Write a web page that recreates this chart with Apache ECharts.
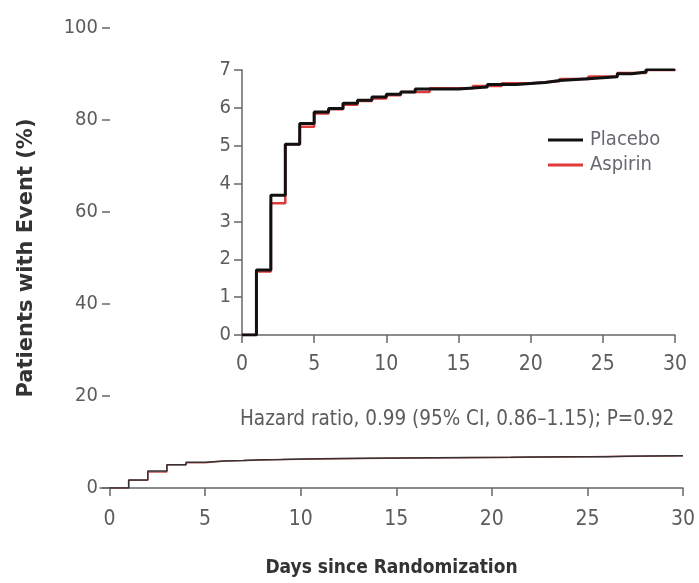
<!DOCTYPE html>
<html>
<head>
<meta charset="utf-8">
<script src="https://cdn.jsdelivr.net/npm/echarts@6/dist/echarts.min.js"></script>
<style>html,body{margin:0;padding:0;background:#fff;}#c{width:699px;height:583px;}</style>
</head>
<body>
<div id="c"></div>
<script>
// Data (days since randomization, cumulative % with event)
const placeboDays = [0, 1, 2, 3, 4, 5, 6, 7, 8, 9, 10, 11, 12, 15, 17, 19, 21, 22, 24, 26, 27, 28, 30];
const placeboPct  = [0, 1.72, 3.69, 5.04, 5.59, 5.89, 5.98, 6.12, 6.2, 6.29, 6.36, 6.42, 6.5, 6.55, 6.62, 6.67, 6.72, 6.77, 6.82, 6.9, 6.95, 7.01, 7.01];
const aspirinDays = [0, 1, 2, 3, 4, 5, 6, 7, 8, 9, 10, 11, 13, 16, 18, 20, 22, 24, 26, 28, 30];
const aspirinPct  = [0, 1.68, 3.48, 5.04, 5.5, 5.85, 5.96, 6.08, 6.18, 6.25, 6.33, 6.42, 6.52, 6.58, 6.65, 6.7, 6.76, 6.83, 6.92, 7.0, 7.02];
const seriesNames = ['Placebo', 'Aspirin'];
const outerXTicks = [0, 5, 10, 15, 20, 25, 30];
const outerYTicks = [0, 20, 40, 60, 80, 100];
const hazardText = 'Hazard ratio, 0.99 (95% CI, 0.86\u20131.15); P=0.92';
const xTitle = 'Days since Randomization';
const yTitle = 'Patients with Event (%)';

const toPairs = (xs, ys) => xs.map((x, i) => [x, ys[i]]);
const placebo = toPairs(placeboDays, placeboPct);
const aspirin = toPairs(aspirinDays, aspirinPct);

const FONT = '"Liberation Sans Narrow", "DejaVu Sans Condensed", "Liberation Sans", sans-serif';
const WIDE = '"DejaVu Sans", "Liberation Sans", sans-serif';
const gray = '#5c5c5c';
const axisCol = '#666';

const chart = echarts.init(document.getElementById('c'));
chart.setOption({
  animation: false,
  backgroundColor: '#fff',
  textStyle: { fontFamily: FONT },
  title: {
    text: hazardText,
    left: 235, top: 404,
    textStyle: { fontSize: 20.5, fontWeight: 'normal', color: gray, fontFamily: FONT }
  },
  legend: {
    orient: 'vertical',
    left: 543, top: 125,
    itemWidth: 35, itemHeight: 3, itemGap: 5,
    icon: 'rect',
    data: seriesNames,
    textStyle: { fontSize: 20, color: '#686870', fontFamily: FONT, padding: [0, 0, 0, 2] }
  },
  grid: [
    { left: 100, right: 16, top: 28, bottom: 95 },
    { left: 242, right: 24, top: 70, bottom: 248 }
  ],
  xAxis: [
    {
      gridIndex: 0, type: 'value', min: -0.5, max: 30,
      axisLine: { lineStyle: { color: axisCol, width: 1.5 } },
      axisTick: { customValues: outerXTicks, length: 8, inside: false, lineStyle: { color: axisCol, width: 1.5 } },
      axisLabel: { customValues: outerXTicks, color: gray, fontSize: 21, margin: 21, fontFamily: FONT },
      splitLine: { show: false },
      name: xTitle, nameLocation: 'middle', nameGap: 71,
      nameTextStyle: { fontSize: 19, fontWeight: 'bold', color: '#333', fontFamily: FONT }
    },
    {
      gridIndex: 1, type: 'value', min: 0, max: 30, interval: 5,
      axisLine: { lineStyle: { color: axisCol, width: 1.5 } },
      axisTick: { length: 8, lineStyle: { color: axisCol, width: 1.5 } },
      axisLabel: { color: gray, fontSize: 21, margin: 19, fontFamily: FONT },
      splitLine: { show: false }
    }
  ],
  yAxis: [
    {
      gridIndex: 0, type: 'value', min: 0, max: 100, interval: 20, offset: -10,
      axisLine: { show: false },
      axisTick: { show: true, length: 8, lineStyle: { color: axisCol, width: 1.5 } },
      axisLabel: { color: gray, fontSize: 20, margin: 12, fontFamily: FONT },
      splitLine: { show: false },
      name: yTitle, nameLocation: 'middle', nameRotate: 90, nameGap: 73,
      nameTextStyle: { fontSize: 21, fontWeight: 'bold', color: '#333', fontFamily: WIDE }
    },
    {
      gridIndex: 1, type: 'value', min: 0, max: 7, interval: 1,
      axisLine: { show: true, lineStyle: { color: axisCol, width: 1.5 } },
      axisTick: { show: true, length: 8, lineStyle: { color: axisCol, width: 1.5 } },
      axisLabel: { color: gray, fontSize: 20, margin: 11, fontFamily: FONT },
      splitLine: { show: false }
    }
  ],
  series: [
    {
      name: 'Aspirin', type: 'line', step: 'end', xAxisIndex: 1, yAxisIndex: 1,
      data: aspirin, showSymbol: false, color: '#e03a3a',
      lineStyle: { width: 2.5, color: '#e03a3a' }, z: 2
    },
    {
      name: 'Placebo', type: 'line', step: 'end', xAxisIndex: 1, yAxisIndex: 1,
      data: placebo, showSymbol: false, color: '#111',
      lineStyle: { width: 3, color: '#111' }, z: 3
    },
    {
      name: 'Aspirin', type: 'line', step: 'end', xAxisIndex: 0, yAxisIndex: 0,
      data: aspirin, showSymbol: false, color: '#e03a3a',
      lineStyle: { width: 1.5, color: '#c85050' }, z: 2
    },
    {
      name: 'Placebo', type: 'line', step: 'end', xAxisIndex: 0, yAxisIndex: 0,
      data: placebo, showSymbol: false, color: '#111',
      lineStyle: { width: 1.5, color: '#333' }, z: 3
    }
  ]
});
</script>
</body>
</html>
